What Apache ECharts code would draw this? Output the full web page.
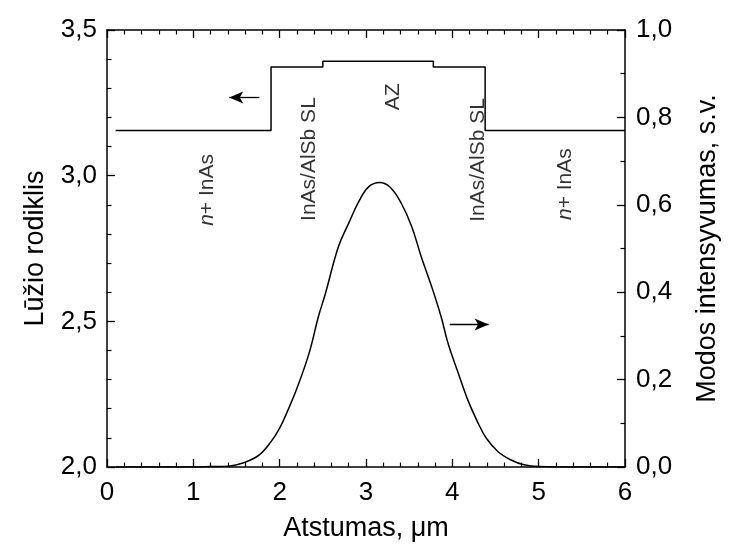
<!DOCTYPE html>
<html><head><meta charset="utf-8">
<script src="https://cdn.jsdelivr.net/npm/echarts@6/dist/echarts.min.js"></script>
<style>html,body{margin:0;padding:0;background:#fff}#c{width:729px;height:550px}</style>
</head><body><div id="c"></div>
<script>
// Refractive index profile (left axis), step starts
const stepX = [0.1, 1.9, 2.5, 3.78, 4.38, 6.0];
const stepN = [3.155, 3.373, 3.393, 3.373, 3.155, 3.155];
// Mode intensity (right axis)
const modeX = [0.1, 0.5, 1.0, 1.2, 1.4, 1.6, 1.76, 1.9, 2.0, 2.1, 2.2, 2.34, 2.45, 2.53, 2.68, 2.8, 2.91, 3.03, 3.16, 3.28, 3.41, 3.53, 3.64, 3.76, 3.87, 3.95, 4.07, 4.18, 4.30, 4.39, 4.53, 4.68, 4.83, 5.0, 5.5, 6.0];
const modeI = [0, 0, 0, 0.001, 0.002, 0.011, 0.027, 0.058, 0.089, 0.132, 0.18, 0.26, 0.345, 0.397, 0.504, 0.558, 0.605, 0.641, 0.651, 0.640, 0.603, 0.55, 0.481, 0.413, 0.344, 0.283, 0.214, 0.153, 0.10, 0.067, 0.035, 0.016, 0.005, 0.001, 0, 0];
// Region labels (x, left-axis value)
const regionText = ['{i|n}+ InAs', 'InAs/AlSb SL', 'AZ', 'InAs/AlSb SL', '{i|n}+ InAs'];
const regionX = [1.16, 2.34, 3.32, 4.30, 5.31];
const regionY = [2.951, 3.057, 3.271, 3.054, 2.971];
// Arrows: [x from, x to, y] ; left arrow on left axis, right arrow on right axis
const arrowLeft = [1.765, 1.416, 3.268];
const arrowRight = [3.97, 4.42, 0.326];
const xTicks = [0, 1, 2, 3, 4, 5, 6];

const FONT = 'Liberation Sans, Arial, sans-serif';
const comma = v => v.toFixed(1).replace('.', ',');
const chart = echarts.init(document.getElementById('c'));
const axisLine = () => ({show: true, onZero: false, lineStyle: {color: '#000', width: 1.5}});
const tick = () => ({show: true, inside: true, length: 8, lineStyle: {color: '#000', width: 1.3}});
const minor = n => ({show: true, splitNumber: n, length: 4.5, lineStyle: {color: '#000', width: 1.2}});
chart.setOption({
  animation: false,
  backgroundColor: '#fff',
  grid: {left: 107, right: 101, top: 30, bottom: 83},
  xAxis: [{
    type: 'value', min: xTicks[0], max: xTicks[xTicks.length - 1], interval: 1,
    axisLine: axisLine(), axisTick: tick(), minorTick: minor(5),
    splitLine: {show: false},
    axisLabel: {color: '#000', fontSize: 26, fontFamily: FONT, margin: 13},
    name: 'Atstumas, μm', nameLocation: 'middle', nameGap: 48,
    nameTextStyle: {color: '#000', fontSize: 27, fontFamily: FONT}
  }, {
    type: 'value', position: 'top', min: 0, max: 6, interval: 1,
    axisLine: axisLine(), axisTick: tick(), minorTick: minor(5),
    splitLine: {show: false}, axisLabel: {show: false}
  }],
  yAxis: [{
    type: 'value', min: 2, max: 3.5, interval: 0.5,
    axisLine: axisLine(), axisTick: tick(), minorTick: minor(5),
    splitLine: {show: false},
    axisLabel: {color: '#000', fontSize: 26, fontFamily: FONT, formatter: comma, margin: 10},
    name: 'Lūžio rodiklis', nameLocation: 'middle', nameGap: 58, nameRotate: 90,
    nameTextStyle: {color: '#000', fontSize: 27, fontFamily: FONT}
  }, {
    type: 'value', position: 'right', min: 0, max: 1, interval: 0.2,
    axisLine: axisLine(), axisTick: tick(), minorTick: minor(2),
    splitLine: {show: false},
    axisLabel: {color: '#000', fontSize: 26, fontFamily: FONT, formatter: comma, margin: 11},
    name: 'Modos intensyvumas, s.v.', nameLocation: 'middle', nameGap: 69, nameRotate: 90,
    nameTextStyle: {color: '#000', fontSize: 27, fontFamily: FONT}
  }],
  series: [{
    type: 'line', step: 'end', xAxisIndex: 0, yAxisIndex: 0,
    data: stepX.map((x, i) => [x, stepN[i]]),
    showSymbol: false, lineStyle: {color: '#000', width: 1.5},
    markLine: {
      silent: true, symbol: ['none', 'arrow'], symbolSize: [9, 14],
      label: {show: false}, lineStyle: {color: '#000', width: 1.3, type: 'solid'},
      data: [[{coord: [arrowLeft[0], arrowLeft[2]]}, {coord: [arrowLeft[1], arrowLeft[2]]}]]
    }
  }, {
    type: 'line', xAxisIndex: 0, yAxisIndex: 1, smooth: 0.4,
    data: modeX.map((x, i) => [x, modeI[i]]),
    showSymbol: false, lineStyle: {color: '#000', width: 1.5},
    markLine: {
      silent: true, symbol: ['none', 'arrow'], symbolSize: [9, 14],
      label: {show: false}, lineStyle: {color: '#000', width: 1.3, type: 'solid'},
      data: [[{coord: [arrowRight[0], arrowRight[2]]}, {coord: [arrowRight[1], arrowRight[2]]}]]
    }
  }, {
    type: 'scatter', xAxisIndex: 0, yAxisIndex: 0, symbolSize: 0,
    data: regionX.map((x, i) => ({value: [x, regionY[i]], name: regionText[i]})),
    label: {
      show: true, position: 'inside', rotate: 90, formatter: p => p.name,
      color: '#000', fontSize: 21, fontFamily: FONT,
      rich: {i: {fontStyle: 'italic', fontSize: 21, fontFamily: FONT, color: '#000'}}
    }
  }]
});
</script></body></html>
